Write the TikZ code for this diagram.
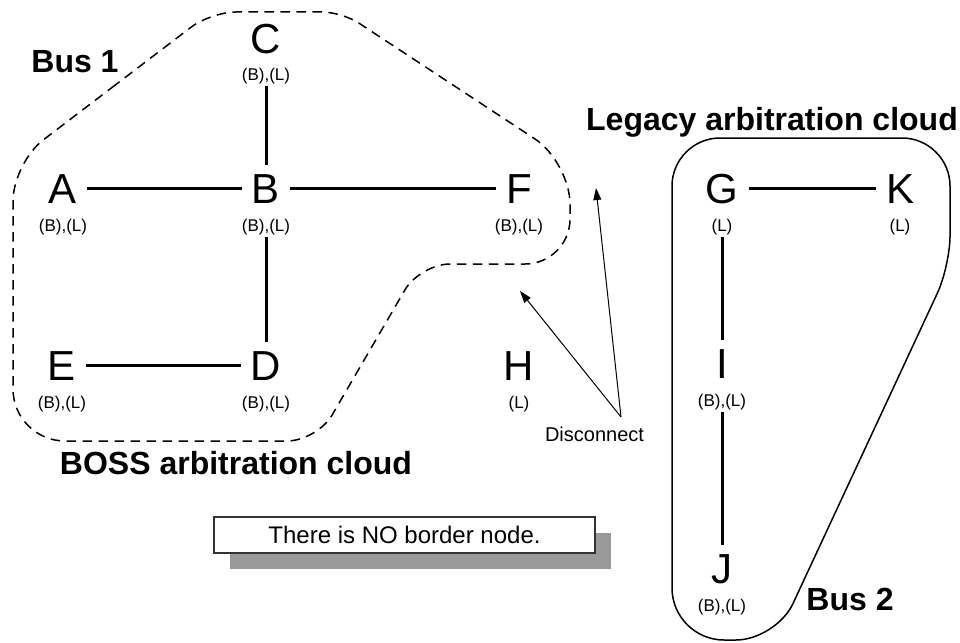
\documentclass[tikz,border=0pt]{standalone}
\usepackage{fontspec}
\setmainfont{Liberation Sans}
\usetikzlibrary{calc,arrows.meta,shadows}
\definecolor{shadowgray}{HTML}{999999}
\definecolor{boxedge}{HTML}{333333}

\begin{document}
\begin{tikzpicture}[x=1pt,y=-1pt,
  letter/.style={font=\fontsize{42}{42}\selectfont, text height=30pt, text depth=0pt,
                 inner xsep=10pt, inner ysep=8pt, anchor=base},
  tag/.style={font=\fontsize{17}{17}\selectfont, inner sep=1.5pt, anchor=base},
  title/.style={font=\fontsize{32}{32}\selectfont\bfseries, inner sep=0pt, anchor=base},
  wire/.style={draw=black, line width=3pt},
  cloudline/.style={line width=1.5pt, dash pattern=on 9.5pt off 6.5pt},
  busline/.style={line width=1.5pt},
  pointer/.style={line width=1pt, -{Triangle[length=12pt,width=8pt]}},
  % rounded corner at vertex #2, coming from #1, leaving towards #3, radius #4
  roundat/.style n args={4}{insert path={
    -- ($(#2)!#4!(#1)$)
    .. controls ($(#2)!#4*0.45!(#1)$) and ($(#2)!#4*0.45!(#3)$) .. ($(#2)!#4!(#3)$)}}
]
\useasboundingbox (0,0) rectangle (960,642);

% ---------- BOSS cloud outline (dashed) ----------
\coordinate (v1) at (211,12);
\coordinate (v2) at (342,12);
\coordinate (v3) at (570,162);
\coordinate (v4) at (570,264);
\coordinate (v5) at (420,264);
\coordinate (v6) at (317,441);
\coordinate (v7) at (13,441);
\coordinate (v8) at (13,163);
\draw[cloudline] ($(v8)!0.5!(v1)$)
  [roundat={v8}{v1}{v2}{25pt}]
  [roundat={v1}{v2}{v3}{20pt}]
  [roundat={v2}{v3}{v4}{42pt}]
  [roundat={v3}{v4}{v5}{45pt}]
  [roundat={v4}{v5}{v6}{30pt}]
  [roundat={v5}{v6}{v7}{30pt}]
  [roundat={v6}{v7}{v8}{52pt}]
  [roundat={v7}{v8}{v1}{38pt}]
  -- cycle;

% ---------- Legacy cloud outline (solid) ----------
\coordinate (w1) at (672,138);
\coordinate (w2) at (950,138);
\coordinate (w3) at (950,266);
\coordinate (w4) at (776,640);
\coordinate (w5) at (672,640);
\draw[busline] ($(w5)!0.5!(w1)$)
  [roundat={w5}{w1}{w2}{48pt}]
  [roundat={w1}{w2}{w3}{48pt}]
  [roundat={w2}{w3}{w4}{30pt}]
  [roundat={w3}{w4}{w5}{40pt}]
  [roundat={w4}{w5}{w1}{52pt}]
  -- cycle;

% ---------- titles ----------
\node[title] (bus1)   at (75,73)   {Bus 1};
\node[title] (legacy) at (772,130) {Legacy arbitration cloud};
\node[title] (boss)   at (236,474) {BOSS arbitration cloud};
\node[title] (bus2)   at (850,610) {Bus 2};

% ---------- nodes ----------
\node[letter] (C) at (266,53)  {C};
\node[letter] (A) at (63,203)  {A};
\node[letter] (B) at (266,203) {B};
\node[letter] (F) at (519,203) {F};
\node[letter] (E) at (62,380)  {E};
\node[letter] (D) at (266,380) {D};
\node[letter] (H) at (519,380) {H};
\node[letter] (G) at (722,203) {G};
\node[letter] (K) at (900,203) {K};
\node[letter] (I) at (722,378) {I};
\node[letter] (J) at (722,583) {J};

\node[tag] (Clab) at (266,80.5)  {(B),(L)};
\node[tag] (Alab) at (63,231.5)  {(B),(L)};
\node[tag] (Blab) at (266,231.5) {(B),(L)};
\node[tag] (Flab) at (519,231.5) {(B),(L)};
\node[tag] (Elab) at (62,408.5)  {(B),(L)};
\node[tag] (Dlab) at (266,408.5) {(B),(L)};
\node[tag] (Hlab) at (519,408.5) {(L)};
\node[tag] (Glab) at (722,231.5) {(L)};
\node[tag] (Klab) at (900,231.5) {(L)};
\node[tag] (Ilab) at (722,406.5) {(B),(L)};
\node[tag] (Jlab) at (722,611.5) {(B),(L)};

% ---------- links ----------
\draw[wire] (A) -- (B);
\draw[wire] (B) -- (F);
\draw[wire] (Clab.south) -- (B.north);
\draw[wire] (Blab.south) -- (D.north);
\draw[wire] (E) -- (D);
\draw[wire] (G) -- (K);
\draw[wire] (Glab.south) -- (I.north);
\draw[wire] (Ilab.south) -- (J.north);

% ---------- disconnect pointers ----------
\node[font=\fontsize{20}{20}\selectfont, anchor=base, inner sep=0pt] (disc) at (594.5,441) {Disconnect};
\coordinate (split) at (621,417);
\coordinate (tipF) at (596,188);
\coordinate (tipH) at (520,291);
\draw[pointer] (split) -- (tipF);
\draw[pointer] (split) -- (tipH);

% ---------- note box ----------
\node[draw=boxedge, fill=white, line width=1.2pt, minimum width=381pt, minimum height=36pt,
      inner sep=0pt, font=\fontsize{24}{24}\selectfont,
      drop shadow={shadow xshift=16pt, shadow yshift=-16pt, fill=shadowgray, opacity=1}]
  (note) at (404.5,535) {There is NO border node.};
\end{tikzpicture}
\end{document}
